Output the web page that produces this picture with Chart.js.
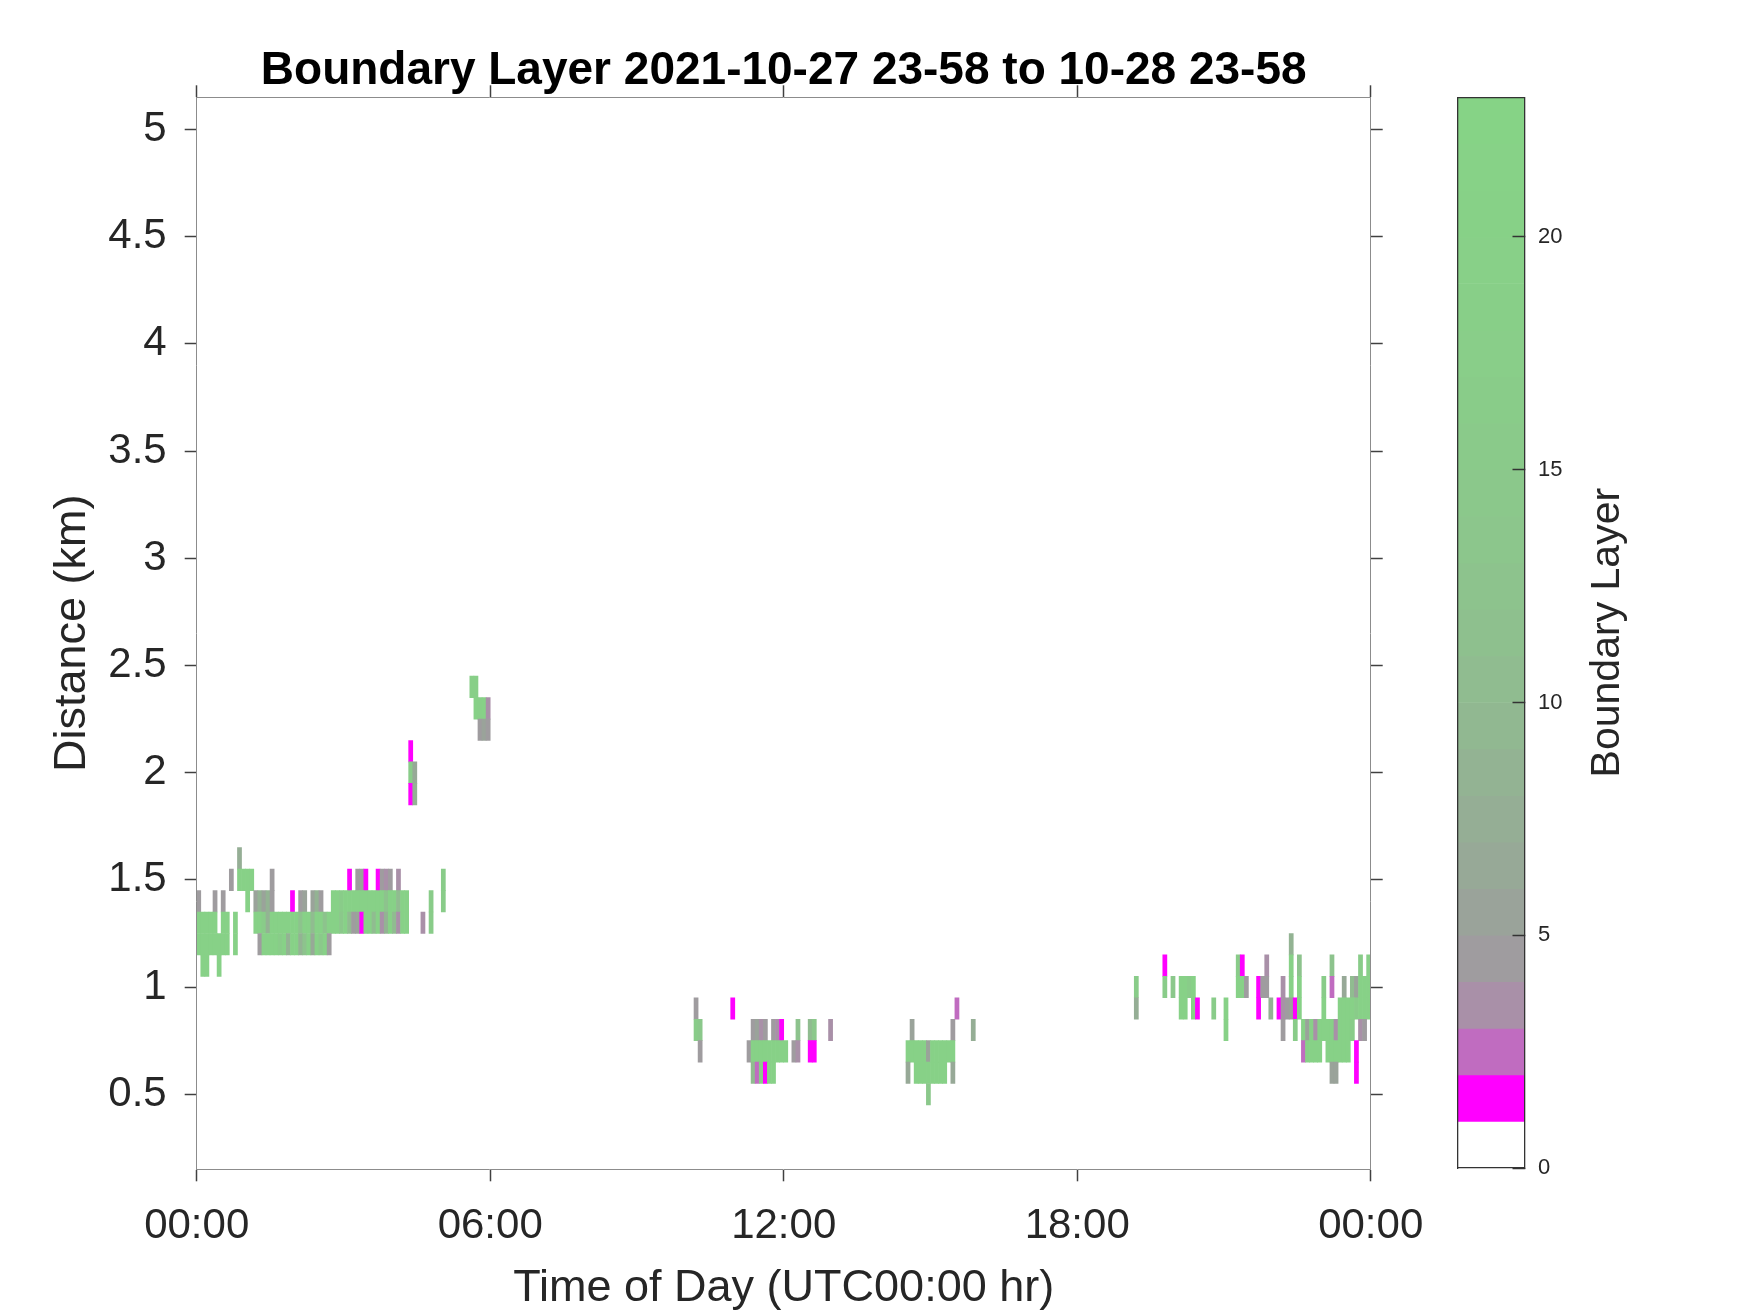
<!DOCTYPE html>
<html>
<head>
<meta charset="utf-8">
<title>Boundary Layer</title>
<script src="https://cdn.jsdelivr.net/npm/chart.js@4.4.0/dist/chart.umd.min.js"></script>
<style>
  html, body { margin: 0; padding: 0; background: #fff; }
  #wrap { position: relative; width: 1750px; height: 1313px; }
  #main, #bar { position: absolute; top: 0; }
  #main { left: 0; }
  #bar { left: 1400px; }
</style>
</head>
<body>
<div id="wrap">
  <canvas id="main" width="1750" height="1313"></canvas>
  <canvas id="bar" width="350" height="1313"></canvas>
</div>
<script>
// axes
const timeTicks = [0, 6, 12, 18, 24];
const timeTickLabels = ['00:00', '06:00', '12:00', '18:00', '00:00'];
const distTicks = [0.5, 1, 1.5, 2, 2.5, 3, 3.5, 4, 4.5, 5];
const distMin = 0.15, distMax = 5.15;
const slotHours = 5 / 60;   // one column = 5 minutes
const cellHalf = 0.05;      // one row = 0.1 km

// colour bar
const cbEdges = [0, 1, 2, 3, 4, 5, 6, 7, 8, 9, 10, 11, 12, 13, 14, 15, 16, 17, 18, 19, 20, 21, 22, 23];
const cbTicks = [0, 5, 10, 15, 20];
const cbColors = ['#ffffff', '#ff00ff', '#c06cc0', '#a990a8', '#9f9c9f', '#9aa39a', '#97a997', '#95ae95',
  '#93b393', '#91b891', '#90bc90', '#8ec08e', '#8dc38d', '#8cc68c', '#8bc88b', '#8aca8a',
  '#89cc89', '#89ce89', '#88cf88', '#88d088', '#87d187', '#87d287', '#86d386'];

// cells: [height km, first 5-min slot, values...]
const nightCells = [
  [1.6, 10, [7]],
  [1.5, 8, [4.5]],
  [1.5, 10, [20, 20, 20, 20]],
  [1.5, 18, [4.5]],
  [1.5, 37, [1.5]],
  [1.5, 39, [4.5, 5, 1.5]],
  [1.5, 44, [1.5, 4.5, 3.5, 4.5]],
  [1.5, 49, [3.5]],
  [1.5, 60, [16]],
  [1.4, 0, [4.5]],
  [1.4, 4, [4.5]],
  [1.4, 6, [4.5]],
  [1.4, 12, [20]],
  [1.4, 14, [5, 8, 5, 8, 4.5]],
  [1.4, 23, [1.5]],
  [1.4, 25, [4.5, 5]],
  [1.4, 28, [5, 8, 4.5]],
  [1.4, 33, [20, 20, 16, 20, 20, 20, 20, 20, 20, 20, 20, 20, 20, 12, 20, 20, 10, 20, 20]],
  [1.4, 57, [16]],
  [1.4, 60, [16]],
  [1.3, 0, [20, 20, 20, 20, 20]],
  [1.3, 6, [20, 20]],
  [1.3, 9, [20]],
  [1.3, 14, [20, 20, 16, 8, 20, 20, 20, 20, 20, 20, 20, 12, 20, 20, 10, 20, 20, 12, 20, 20,
             20, 14, 20, 10, 4.5, 5, 1.5, 20, 20, 10, 20, 3.5, 8, 20, 10, 3.5, 20, 20]],
  [1.3, 55, [3.5]],
  [1.3, 57, [16]],
  [1.2, 0, [20, 20, 20, 20, 20, 20, 20, 20]],
  [1.2, 9, [20]],
  [1.2, 15, [4.5, 20, 20, 20, 20, 16, 20, 8, 20, 20, 8, 12, 20, 6, 20, 14, 20, 4.5]],
  [1.1, 1, [20, 20]],
  [1.1, 5, [20]],
];

const morningCells = [
  [2.1, 52, [1.5]],
  [2.0, 52, [16, 6]],
  [1.9, 52, [1.5, 8]],
  [2.4, 67, [18, 18]],
  [2.3, 68, [20, 18, 20, 3.5]],
  [2.2, 69, [4.5, 5, 4.5]],
];

const noonCells = [
  [0.9, 122, [4.5]],
  [0.8, 122, [16, 14]],
  [0.7, 123, [4.5]],
  [0.9, 131, [1.5]],
  [0.8, 136, [4.5, 5, 3.5, 4.5]],
  [0.8, 141, [4.5, 3.5, 1.5]],
  [0.8, 147, [12]],
  [0.8, 150, [10, 14]],
  [0.8, 155, [3.5]],
  [0.7, 135, [4.5]],
  [0.7, 136, [20, 20, 20, 20, 20, 20, 20, 20, 20]],
  [0.7, 146, [4.5, 3.5]],
  [0.7, 150, [1.5, 1.5]],
  [0.6, 136, [10, 2.5, 16, 1.5, 20, 20]],
];

const afternoonCells = [
  [0.9, 186, [2.5]],
  [0.8, 175, [5]],
  [0.8, 185, [4]],
  [0.8, 190, [7]],
  [0.7, 174, [20, 20, 20, 20, 20, 5, 20, 20, 20, 20, 20, 20]],
  [0.6, 174, [6]],
  [0.6, 176, [20, 20, 20, 20, 20, 20, 20, 20]],
  [0.6, 185, [6]],
  [0.5, 179, [14]],
];

const eveningCells = [
  [1.2, 268, [8]],
  [1.1, 237, [1.5]],
  [1.1, 255, [16, 1.5]],
  [1.1, 262, [3]],
  [1.1, 268, [20]],
  [1.1, 270, [12]],
  [1.1, 278, [12]],
  [1.1, 285, [16]],
  [1.1, 287, [18]],
  [1.0, 230, [16]],
  [1.0, 237, [16]],
  [1.0, 239, [14]],
  [1.0, 241, [20, 20, 16, 20]],
  [1.0, 255, [20, 20, 4.5]],
  [1.0, 260, [1.5, 4.5, 4.5]],
  [1.0, 266, [3.5]],
  [1.0, 268, [20]],
  [1.0, 270, [20]],
  [1.0, 276, [16]],
  [1.0, 278, [2.5]],
  [1.0, 281, [6]],
  [1.0, 283, [10, 5, 20, 20, 20]],
  [0.9, 230, [7]],
  [0.9, 241, [20, 20]],
  [0.9, 244, [20, 1.5]],
  [0.9, 249, [16]],
  [0.9, 252, [20]],
  [0.9, 260, [1.5]],
  [0.9, 263, [8]],
  [0.9, 265, [1.5, 3.5, 4.5, 5, 1.5, 20]],
  [0.9, 276, [20]],
  [0.9, 280, [20, 20, 20, 20, 16, 20, 20, 20]],
  [0.8, 252, [20]],
  [0.8, 266, [4.5]],
  [0.8, 269, [16]],
  [0.8, 271, [20, 5, 20, 3.5, 20, 20, 20, 20, 3.5, 20, 20, 20, 16]],
  [0.8, 285, [3.5, 4.5]],
  [0.7, 271, [2.5, 20, 20, 20, 20]],
  [0.7, 277, [20, 20, 20, 20, 20, 20]],
  [0.7, 284, [1.5]],
  [0.6, 278, [5, 5]],
  [0.6, 284, [1.5]],
];

const titleText = 'Boundary Layer 2021-10-27 23-58 to 10-28 23-58';
const xLabel = 'Time of Day (UTC00:00 hr)';
const yLabel = 'Distance (km)';
const cbLabel = 'Boundary Layer';

const ink = '#262626';
const boxGray = '#8c8c8c';
const fontFamily = '"Liberation Sans", Arial, Helvetica, sans-serif';
Chart.defaults.font.family = fontFamily;

const colorFor = v => cbColors[Math.min(cbColors.length - 1, Math.floor(v))];

const points = [];
[...nightCells, ...morningCells, ...noonCells, ...afternoonCells, ...eveningCells].forEach(([h, first, vals]) => {
    vals.forEach((v, i) => {
        points.push({ x: (first + i + 0.5) * slotHours, y: [h - cellHalf, h + cellHalf], v: v });
    });
});

// plot box in page pixels
const box = { left: 196.7, top: 97.3, right: 1370.7, bottom: 1169.3 };

const setTicks = list => s => { s.ticks = list.map(v => ({ value: v })); };
const boxBorder = { display: true, color: boxGray, width: 1, z: 1 };
const outTicks = { drawOnChartArea: false, tickLength: 12, tickColor: '#404040', tickWidth: 1.5, offset: false };

new Chart(document.getElementById('main'), {
    type: 'bar',
    data: {
        datasets: [{
            data: points,
            backgroundColor: points.map(p => colorFor(p.v)),
            borderWidth: 0,
            barPercentage: 1,
            categoryPercentage: 1
        }]
    },
    options: {
        responsive: false,
        animation: false,
        events: [],
        layout: { padding: { left: 0, top: 0, right: 1750 - box.right - 12, bottom: 0 } },
        plugins: {
            legend: { display: false },
            tooltip: { enabled: false },
            title: {
                display: true, text: titleText, fullSize: false, color: '#000',
                font: { size: 46, weight: 'bold', lineHeight: 1 },
                padding: { top: 48.5, bottom: box.top - 48.5 - 46 }
            }
        },
        scales: {
            x: {
                type: 'linear', position: 'bottom', min: 0, max: 24, offset: false,
                afterBuildTicks: setTicks(timeTicks),
                ticks: { callback: (v, i) => timeTickLabels[i], color: ink, font: { size: 42 }, padding: 20, maxRotation: 0, autoSkip: false },
                grid: outTicks,
                border: boxBorder,
                title: { display: true, text: xLabel, color: ink, font: { size: 45, lineHeight: 1.1 }, padding: { top: 0, bottom: 0 } },
                afterFit: s => { s.height = 1313 - box.bottom; }
            },
            xTop: {
                type: 'linear', position: 'top', min: 0, max: 24, offset: false,
                afterBuildTicks: setTicks(timeTicks),
                ticks: { display: false },
                grid: outTicks,
                border: boxBorder,
                afterFit: s => { s.height = 0; }
            },
            y: {
                type: 'linear', position: 'left', min: distMin, max: distMax,
                afterBuildTicks: setTicks(distTicks),
                ticks: { callback: v => String(v), color: ink, font: { size: 42 }, padding: 18, autoSkip: false },
                grid: outTicks,
                border: boxBorder,
                title: { display: true, text: yLabel, color: ink, font: { size: 45, lineHeight: 1.2 }, padding: { top: 45.5, bottom: 0 } },
                afterFit: s => { s.width = box.left; }
            },
            yRight: {
                type: 'linear', position: 'right', min: distMin, max: distMax,
                afterBuildTicks: setTicks(distTicks),
                ticks: { display: false },
                grid: outTicks,
                border: boxBorder,
                afterFit: s => { s.width = 12; }
            }
        }
    }
});

// colour bar, placed at page x 1400
const cbBox = { left: 1457.6 - 1400, right: 1524.5 - 1400, top: 97.3, bottom: 1168 };

const cbLabelPlugin = {
    id: 'cbLabel',
    afterDraw(chart) {
        const { ctx, chartArea } = chart;
        ctx.save();
        ctx.translate(chartArea.right + 83, (chartArea.top + chartArea.bottom) / 2);
        ctx.rotate(-Math.PI / 2);
        ctx.font = '41px ' + fontFamily;
        ctx.fillStyle = ink;
        ctx.textAlign = 'center';
        ctx.textBaseline = 'middle';
        ctx.fillText(cbLabel, 0, 0);
        ctx.restore();
    }
};

const cbFrame = { display: true, color: '#333333', width: 1.3, z: 2 };

new Chart(document.getElementById('bar'), {
    type: 'bar',
    data: {
        labels: ['cb'],
        datasets: [{
            data: cbColors.map((c, i) => ({ x: 'cb', y: [cbEdges[i], cbEdges[i + 1]] })),
            backgroundColor: cbColors,
            borderWidth: 0,
            barPercentage: 1,
            categoryPercentage: 1
        }]
    },
    options: {
        responsive: false,
        animation: false,
        events: [],
        layout: { padding: { left: cbBox.left, top: cbBox.top, right: 0, bottom: 1313 - cbBox.bottom } },
        plugins: { legend: { display: false }, tooltip: { enabled: false } },
        scales: {
            x: {
                type: 'category', position: 'bottom', offset: true,
                ticks: { display: false }, grid: { display: false }, border: cbFrame,
                afterFit: s => { s.height = 0; }
            },
            xTop: {
                type: 'category', position: 'top', offset: true,
                ticks: { display: false }, grid: { display: false }, border: cbFrame,
                afterFit: s => { s.height = 0; }
            },
            yLeft: {
                type: 'linear', position: 'left', min: 0, max: 23,
                ticks: { display: false }, grid: { display: false }, border: cbFrame,
                afterFit: s => { s.width = 0; }
            },
            y: {
                type: 'linear', position: 'right', min: 0, max: 23,
                afterBuildTicks: setTicks(cbTicks),
                ticks: { callback: v => String(v), color: ink, font: { size: 22 }, padding: 25.5, autoSkip: false },
                grid: { drawOnChartArea: false, tickLength: -12, tickColor: '#333333', tickWidth: 1.5, z: 1 },
                border: cbFrame,
                afterFit: s => { s.width = 350 - cbBox.right; }
            }
        }
    },
    plugins: [cbLabelPlugin]
});
</script>
</body>
</html>
